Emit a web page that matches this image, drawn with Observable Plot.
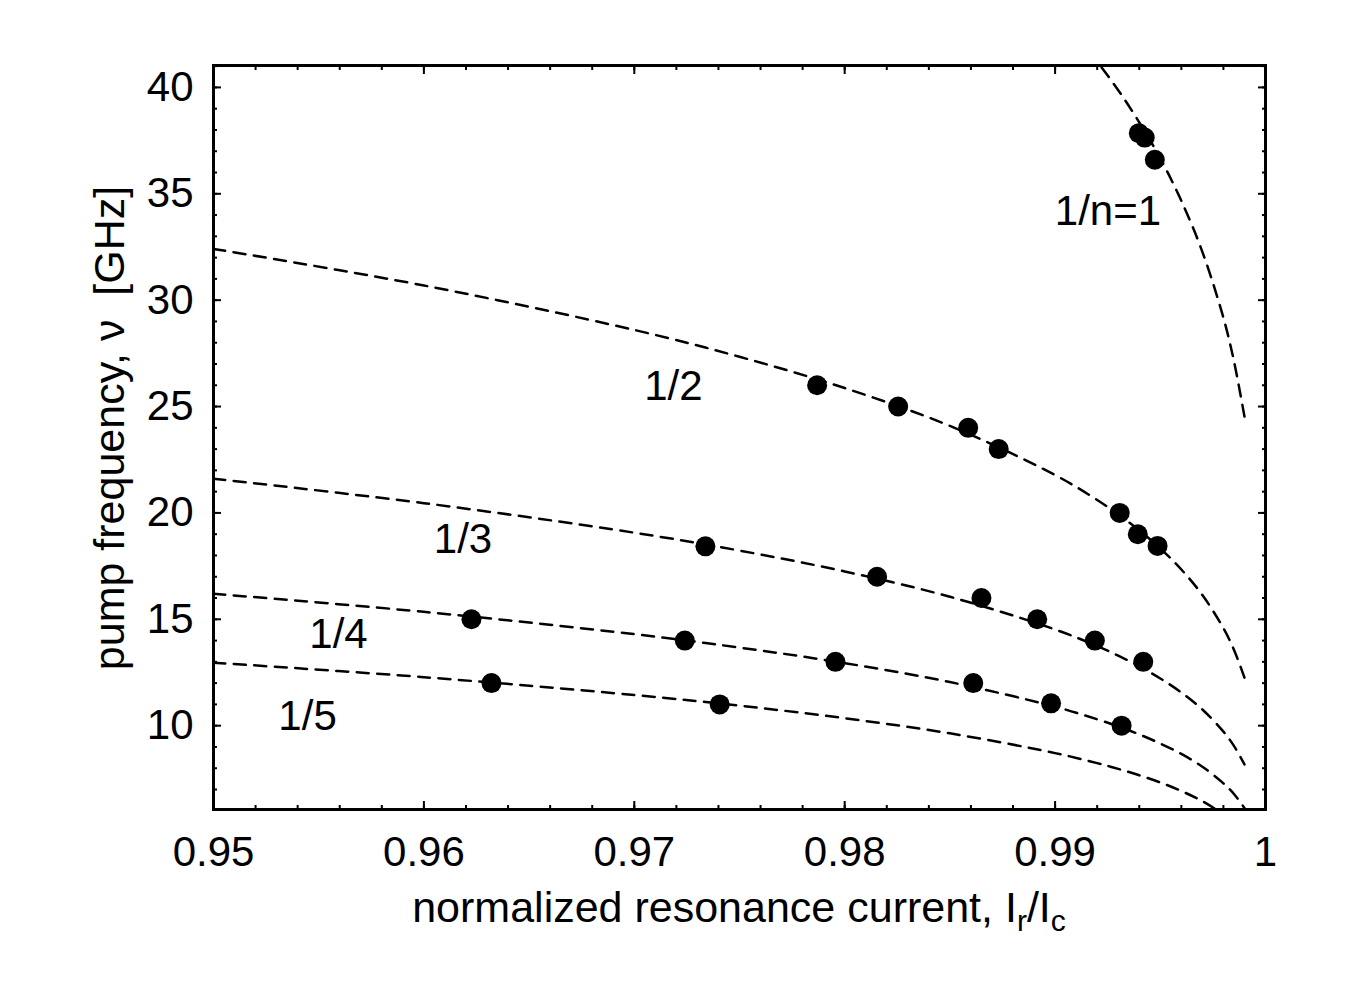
<!DOCTYPE html>
<html>
<head>
<meta charset="utf-8">
<script src="https://cdn.jsdelivr.net/npm/d3@7"></script>
<script src="https://cdn.jsdelivr.net/npm/@observablehq/plot@0.6"></script>
<style>
  body { margin: 0; background: #fff; }
  #chart svg { display: block; }
</style>
</head>
<body>
<div id="chart"></div>
<script>
// ---- dashed curves ----
const curveX  = [0.95, 0.96, 0.97, 0.975, 0.98, 0.985, 0.99, 0.992, 0.993, 0.994, 0.995, 0.996, 0.997, 0.998, 0.9985, 0.999];
const curveN2 = [32.41, 30.69, 28.60, 27.34, 25.87, 24.09, 21.78, 20.61, 19.93, 19.18, 18.33, 17.34, 16.14, 14.58, 13.57, 12.26];
const curveN3 = [21.61, 20.46, 19.07, 18.23, 17.25, 16.06, 14.52, 13.74, 13.29, 12.79, 12.22, 11.56, 10.76, 9.72, 9.05, 8.18];
const curveN4 = [16.20, 15.35, 14.30, 13.67, 12.94, 12.05, 10.89, 10.30, 9.97, 9.59, 9.16, 8.67, 8.07, 7.29, 6.79, 6.13];
const curveN5 = [12.96, 12.28, 11.44, 10.94, 10.35, 9.64, 8.71, 8.24, 7.97, 7.67, 7.33, 6.93, 6.45, 5.83, 5.43, 4.91];
const curveN1X = [0.991, 0.992, 0.993, 0.994, 0.995, 0.996, 0.997, 0.998, 0.9985, 0.999];
const curveN1  = [42.44, 41.21, 39.87, 38.36, 36.66, 34.67, 32.27, 29.17, 27.14, 24.53];

// ---- measured points ----
const pointsN1X = [0.99398, 0.99426, 0.99474];
const pointsN1Y = [37.85, 37.64, 36.6];
const pointsN2X = [0.97869, 0.98254, 0.98587, 0.98732, 0.99307, 0.99393, 0.99487];
const pointsN2Y = [26.0, 25.0, 24.0, 23.0, 20.0, 19.0, 18.45];
const pointsN3X = [0.97338, 0.98154, 0.98650, 0.98915, 0.99189, 0.99419];
const pointsN3Y = [18.43, 17.0, 16.0, 15.0, 14.0, 13.0];
const pointsN4X = [0.96226, 0.97240, 0.97956, 0.98611, 0.98981, 0.99316];
const pointsN4Y = [15.0, 14.0, 13.0, 12.0, 11.05, 10.0];
const pointsN5X = [0.96321, 0.97406];
const pointsN5Y = [12.0, 11.0];

// ---- curve labels ----
const labelTexts = ["1/n=1", "1/2", "1/3", "1/4", "1/5"];
const labelX = [0.99251, 0.97186, 0.96186, 0.95594, 0.95447];
const labelY = [34.15, 25.92, 18.75, 14.28, 10.43];

// ---- ticks ----
const xTicks = [0.95, 0.96, 0.97, 0.98, 0.99, 1.0];
const xTickLabels = ["0.95", "0.96", "0.97", "0.98", "0.99", "1"];
const yTicks = [10, 15, 20, 25, 30, 35, 40];
const yTickLabels = ["10", "15", "20", "25", "30", "35", "40"];
const xMinor = d3.range(0, 26).map(i => 0.95 + i * 0.002);
const yMinor = d3.range(7, 42);

const FONT = "'Liberation Sans', Arial, Helvetica, sans-serif";

const curveData = [
  ...curveN1X.map((x, i) => ({x, y: curveN1[i], s: "1"})),
  ...curveX.map((x, i) => ({x, y: curveN2[i], s: "2"})),
  ...curveX.map((x, i) => ({x, y: curveN3[i], s: "3"})),
  ...curveX.map((x, i) => ({x, y: curveN4[i], s: "4"})),
  ...curveX.map((x, i) => ({x, y: curveN5[i], s: "5"}))
];
const pointData = [
  ...pointsN1X.map((x, i) => ({x, y: pointsN1Y[i]})),
  ...pointsN2X.map((x, i) => ({x, y: pointsN2Y[i]})),
  ...pointsN3X.map((x, i) => ({x, y: pointsN3Y[i]})),
  ...pointsN4X.map((x, i) => ({x, y: pointsN4Y[i]})),
  ...pointsN5X.map((x, i) => ({x, y: pointsN5Y[i]}))
];
const labelData = labelTexts.map((t, i) => ({t, x: labelX[i], y: labelY[i]}));

const xLab = new Map(xTicks.map((v, i) => [v, xTickLabels[i]]));
const yLab = new Map(yTicks.map((v, i) => [v, yTickLabels[i]]));
const blank = () => "";

const chart = Plot.plot({
  width: 1355,
  height: 996,
  marginLeft: 213,
  marginRight: 90,
  marginTop: 65,
  marginBottom: 187,
  x: {domain: [0.95, 1.0]},
  y: {domain: [6.06, 41.03]},
  style: {fontFamily: FONT, fontSize: "42px", color: "black", background: "white"},
  marks: [
    Plot.line(curveData, {x: "x", y: "y", z: "s", stroke: "black", strokeWidth: 2.5,
      strokeDasharray: "12,8.5", curve: "catmull-rom", clip: true}),
    Plot.dot(pointData, {x: "x", y: "y", r: 10, fill: "black", stroke: null}),
    Plot.text(labelData, {x: "x", y: "y", text: "t", fontSize: 42, textAnchor: "middle",
      lineAnchor: "middle", fill: "black"}),
    // bottom
    Plot.axisX(xMinor, {anchor: "bottom", tickSize: -4, tickFormat: blank, label: null, strokeWidth: 2}),
    Plot.axisX(xTicks, {anchor: "bottom", tickSize: -8, tickPadding: 35, tickFormat: d => xLab.get(d),
      label: null, strokeWidth: 2, fontSize: 42}),
    // top
    Plot.axisX(xMinor, {anchor: "top", tickSize: -4, tickFormat: blank, label: null, strokeWidth: 2}),
    Plot.axisX(xTicks, {anchor: "top", tickSize: -8, tickFormat: blank, label: null, strokeWidth: 2}),
    // left
    Plot.axisY(yMinor, {anchor: "left", tickSize: -4, tickFormat: blank, label: null, strokeWidth: 2}),
    Plot.axisY(yTicks, {anchor: "left", tickSize: -8, tickPadding: 28, tickFormat: d => yLab.get(d),
      label: null, strokeWidth: 2, fontSize: 42}),
    // right
    Plot.axisY(yMinor, {anchor: "right", tickSize: -4, tickFormat: blank, label: null, strokeWidth: 2}),
    Plot.axisY(yTicks, {anchor: "right", tickSize: -8, tickFormat: blank, label: null, strokeWidth: 2}),
    Plot.frame({stroke: "black", strokeWidth: 3})
  ]
});

document.getElementById("chart").appendChild(chart);

// axis titles (with subscripts)
const svg = d3.select(chart);
const xt = svg.append("text")
  .attr("x", 739).attr("y", 922)
  .attr("text-anchor", "middle")
  .attr("font-family", FONT).attr("font-size", 43).attr("fill", "black");
xt.append("tspan").text("normalized resonance current, I");
xt.append("tspan").attr("font-size", 30).attr("dy", 9).text("r");
xt.append("tspan").attr("dy", -9).text("/I");
xt.append("tspan").attr("font-size", 30).attr("dy", 9).text("c");

svg.append("text")
  .attr("transform", "translate(124,428) rotate(-90)")
  .attr("text-anchor", "middle")
  .attr("font-family", FONT).attr("font-size", 43).attr("fill", "black")
  .text("pump frequency, \u03bd \u00a0[GHz]");
</script>
</body>
</html>
